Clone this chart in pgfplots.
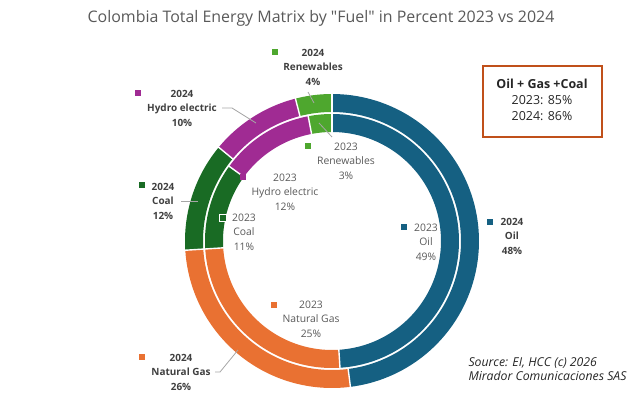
\documentclass[border=0pt]{standalone}
\usepackage{pgfplots}
\pgfplotsset{compat=1.18}
\usepackage{fontspec}
\setmainfont{Open Sans}[Ligatures=TeXOff]
\definecolor{oil}{HTML}{156082}
\definecolor{gas}{HTML}{E97132}
\definecolor{coal}{HTML}{196B24}
\definecolor{hydro}{HTML}{A02B93}
\definecolor{ren}{HTML}{4EA72E}
\definecolor{boxc}{HTML}{C0501A}
\definecolor{titlec}{HTML}{595959}
\definecolor{lblb}{HTML}{404040}
\definecolor{lblr}{HTML}{595959}
\definecolor{lead}{HTML}{A6A6A6}
\definecolor{txt}{HTML}{262626}

% data (percent)
\def\oilA{49}\def\gasA{25}\def\coalA{11}\def\hydroA{12}\def\renA{3}  % 2023 (inner ring)
\def\oilB{48}\def\gasB{26}\def\coalB{12}\def\hydroB{10}\def\renB{4}  % 2024 (outer ring)

% cumulative angles (clockwise from top)
\pgfmathsetmacro\aA{3.6*\oilA}
\pgfmathsetmacro\bA{\aA+3.6*\gasA}
\pgfmathsetmacro\cA{\bA+3.6*\coalA}
\pgfmathsetmacro\dA{\cA+3.6*\hydroA}
\pgfmathsetmacro\eA{\dA+3.6*\renA}
\pgfmathsetmacro\aB{3.6*\oilB}
\pgfmathsetmacro\bB{\aB+3.6*\gasB}
\pgfmathsetmacro\cB{\bB+3.6*\coalB}
\pgfmathsetmacro\dB{\cB+3.6*\hydroB}
\pgfmathsetmacro\eB{\dB+3.6*\renB}

\newcommand\seg[4]{\addplot[draw=#1, line width=18bp, domain=#2:#3, samples=90, variable=\t, no markers] ({332+#4*sin(t)},{155+#4*cos(t)});}
\newcommand\sep[3]{\addplot[draw=white, line width=1.4bp, domain=#2:#3, samples=2, variable=\r, no markers] ({332+r*sin(#1)},{155+r*cos(#1)});}
\newcommand\sq[3]{\addplot[only marks, mark=square*, mark size=2.6bp, mark options={fill=#3, draw=#3}] coordinates {(#1,#2)};}
\newcommand\lb[5]{\node[align=center, font=\fontsize{10}{14.5}\selectfont\bfseries, text=lblb] at (axis cs:#1,#2) {#3\\#4\\#5};}
\newcommand\lr[5]{\node[align=center, font=\fontsize{10.4}{14.5}\selectfont, text=lblr] at (axis cs:#1,#2) {#3\\#4\\#5};}

\begin{document}
\begin{tikzpicture}
\useasboundingbox (0,0) rectangle (642bp,396bp);
\begin{axis}[x=1bp, y=1bp, xmin=0, xmax=642, ymin=0, ymax=396, hide axis, clip=false, scale only axis]
% outer ring 2024
\seg{oil}{0}{\aB}{138}
\seg{gas}{\aB}{\bB}{138}
\seg{coal}{\bB}{\cB}{138}
\seg{hydro}{\cB}{\dB}{138}
\seg{ren}{\dB}{\eB}{138}
% inner ring 2023
\seg{oil}{0}{\aA}{118}
\seg{gas}{\aA}{\bA}{118}
\seg{coal}{\bA}{\cA}{118}
\seg{hydro}{\cA}{\dA}{118}
\seg{ren}{\dA}{\eA}{118}
% separators
\sep{0}{128.4}{147.6}\sep{\aB}{128.4}{147.6}\sep{\bB}{128.4}{147.6}\sep{\cB}{128.4}{147.6}\sep{\dB}{128.4}{147.6}
\sep{0}{108.4}{127.6}\sep{\aA}{108.4}{127.6}\sep{\bA}{108.4}{127.6}\sep{\cA}{108.4}{127.6}\sep{\dA}{108.4}{127.6}
% leader lines
\addplot[lead, line width=0.8bp, no markers] coordinates {(308,304) (314,293)};
\addplot[lead, line width=0.8bp, no markers] coordinates {(319,273) (332,259)};
\addplot[lead, line width=0.8bp, no markers] coordinates {(222,288) (232,288) (256,273)};
\addplot[lead, line width=0.8bp, no markers] coordinates {(181,195) (198,195)};
\addplot[lead, line width=0.8bp, no markers] coordinates {(215,24) (220,24) (238,46)};
% legend squares
\sq{275}{344}{ren}
\sq{308}{250}{ren}
\sq{138}{303}{hydro}
\sq{243}{219}{hydro}
\sq{142}{211}{coal}
\addplot[only marks, mark=square*, mark size=3.2bp, mark options={fill=coal, draw=white, line width=0.8bp}] coordinates {(223,178)};
\sq{404}{169}{oil}
\sq{490}{174}{oil}
\sq{274}{91}{gas}
\sq{142}{39}{gas}
% labels
\lb{313}{329}{2024}{Renewables}{4\%}
\lr{346}{235}{2023}{Renewables}{3\%}
\lb{182}{288}{2024}{Hydro electric}{10\%}
\lr{285}{204}{2023}{Hydro electric}{12\%}
\lb{163}{195}{2024}{Coal}{12\%}
\lr{244}{164}{2023}{Coal}{11\%}
\lr{426}{154}{2023}{Oil}{49\%}
\lb{512}{160}{2024}{Oil}{48\%}
\lr{311}{77}{2023}{Natural Gas}{25\%}
\lb{181}{24}{2024}{Natural Gas}{26\%}
% title
\node[font=\fontsize{16}{19}\selectfont, text=titlec] at (axis cs:321,378) {Colombia Total Energy Matrix by "Fuel" in Percent 2023 vs 2024};
% box
\draw[boxc, line width=2.5bp] (axis cs:483,330) rectangle (axis cs:602,259);
\node[align=center, font=\fontsize{12.5}{16}\selectfont, text=txt] at (axis cs:542,296) {\textbf{Oil + Gas +Coal}\\2023: 85\%\\2024: 86\%};
% source
\node[anchor=west, align=left, font=\fontsize{12.3}{14}\selectfont\itshape, text=txt] at (axis cs:465,27) {Source: EI, HCC (c) 2026\\Mirador Comunicaciones SAS};
\end{axis}
\end{tikzpicture}
\end{document}
